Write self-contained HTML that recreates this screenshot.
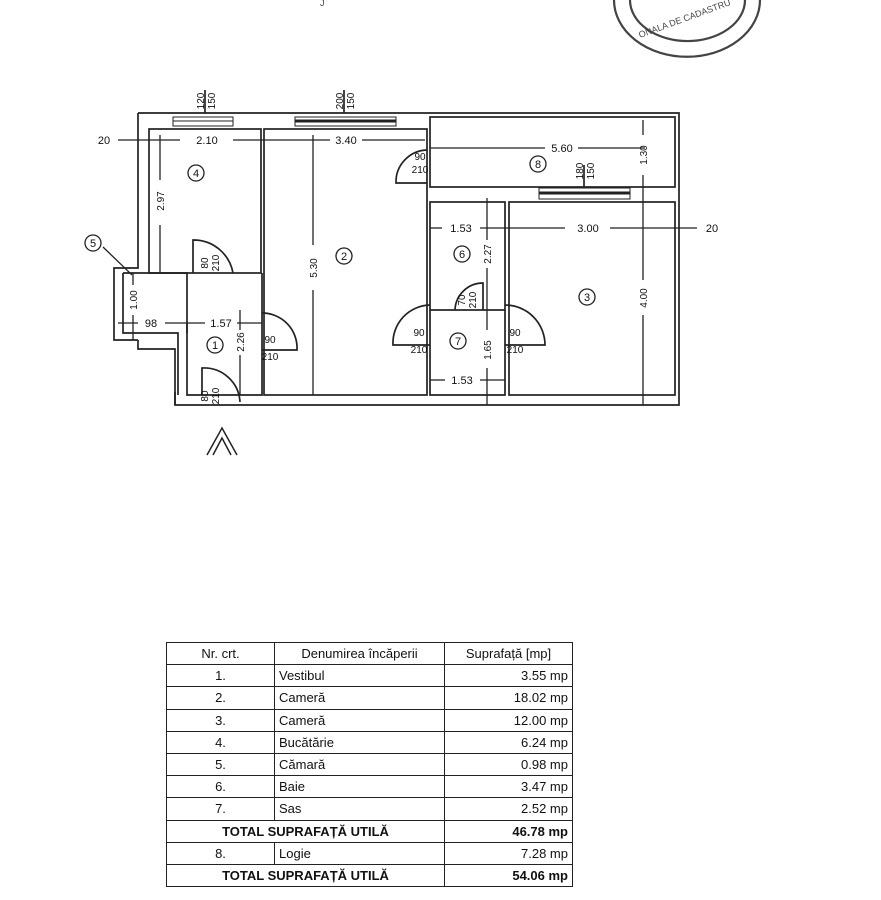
<!DOCTYPE html>
<html><head><meta charset="utf-8"><style>
body{margin:0;background:#fff;width:881px;height:900px;overflow:hidden;font-family:"Liberation Sans",Arial,sans-serif}
svg{position:absolute;left:0;top:0}
table{position:absolute;left:166px;top:642px;border-collapse:collapse;font-size:13px;color:#111}
td{border:1.5px solid #222;height:21.2px;padding:0 4px;line-height:19px}
</style></head><body>
<svg width="881" height="900" viewBox="0 0 881 900" font-family="Liberation Sans, Arial, sans-serif" fill="none" stroke="#222" stroke-width="1.7">
<!-- stamp -->
<g stroke="#444" stroke-width="2.2">
<path d="M614 0 A72 56 0 0 0 760 0"/>
<path d="M630 0 A56 40 0 0 0 745 0"/>
</g>
<g fill="#444" stroke="none" font-size="9"><text x="640" y="38" transform="rotate(-20 640 38)">ONALA DE CADASTRU</text><text x="320" y="6">J</text></g>
<!-- outer walls -->
<path d="M138 113 H679 V405 H175 V392"/>
<path d="M138 113 V268 H114 V340 H138"/>
<path d="M138 340 V349 H175 V405"/>
<rect x="149" y="129" width="112" height="144"/>
<rect x="264" y="129" width="163" height="266"/>
<rect x="430" y="117" width="245" height="70"/>
<rect x="430" y="202" width="75" height="108"/>
<rect x="509" y="202" width="166" height="193"/>
<path d="M430 310 V395 H505 V310"/>
<path d="M123 273 H187 V395 H262 V273"/>
<path d="M123 273 V333 H178 V395"/>
<path d="M187 323 V333"/>
<g stroke-width="1"><rect x="173" y="117" width="60" height="9"/><line x1="173" y1="121" x2="233" y2="121"/>
<rect x="295" y="117" width="101" height="9"/><line x1="295" y1="121" x2="396" y2="121" stroke-width="3"/>
<rect x="539" y="188" width="91" height="11"/><line x1="539" y1="193" x2="630" y2="193" stroke-width="3"/></g>
<line x1="205" y1="90" x2="205" y2="113"/><line x1="344" y1="90" x2="344" y2="113"/><line x1="584" y1="165" x2="584" y2="188"/>
<path d="M193 273 V240 A40 40 0 0 1 233 273"/>
<path d="M262 313 A35 35 0 0 1 297 350 H262"/>
<path d="M202 395 V368 A36 36 0 0 1 240 402"/>
<path d="M427 183 H396 A32 32 0 0 1 427 150"/>
<path d="M430 345 H393 A38 38 0 0 1 430 305"/>
<path d="M505 345 H545 A40 40 0 0 0 505 305"/>
<path d="M483 310 V283 A28 28 0 0 0 455 310"/>
<g stroke-width="1.3">
<line x1="118" y1="140" x2="180" y2="140"/><line x1="233" y1="140" x2="330" y2="140"/><line x1="362" y1="140" x2="425" y2="140"/>
<line x1="430" y1="148" x2="545" y2="148"/><line x1="578" y1="148" x2="645" y2="148"/>
<line x1="160" y1="135" x2="160" y2="180"/><line x1="160" y1="225" x2="160" y2="273"/>
<line x1="313" y1="135" x2="313" y2="245"/><line x1="313" y1="290" x2="313" y2="395"/>
<line x1="643" y1="120" x2="643" y2="135"/><line x1="643" y1="175" x2="643" y2="280"/><line x1="643" y1="315" x2="643" y2="405"/>
<line x1="430" y1="228" x2="442" y2="228"/><line x1="480" y1="228" x2="565" y2="228"/><line x1="610" y1="228" x2="697" y2="228"/>
<line x1="487" y1="198" x2="487" y2="240"/><line x1="487" y1="268" x2="487" y2="330"/><line x1="487" y1="368" x2="487" y2="405"/>
<line x1="430" y1="380" x2="445" y2="380"/><line x1="480" y1="380" x2="505" y2="380"/>
<line x1="118" y1="323" x2="138" y2="323"/><line x1="165" y1="323" x2="205" y2="323"/><line x1="237" y1="323" x2="262" y2="323"/>
<line x1="133" y1="273" x2="133" y2="285"/><line x1="133" y1="315" x2="133" y2="340"/>
<line x1="240" y1="310" x2="240" y2="330"/><line x1="240" y1="355" x2="240" y2="395"/>
<line x1="132" y1="275" x2="103" y2="247"/>
</g>
<g stroke-width="1.3"><circle cx="196" cy="173" r="8"/><circle cx="344" cy="256" r="8"/><circle cx="538" cy="164" r="8"/><circle cx="462" cy="254" r="8"/><circle cx="587" cy="297" r="8"/><circle cx="458" cy="341" r="8"/><circle cx="215" cy="345" r="8"/><circle cx="93" cy="243" r="8"/></g>
<path d="M207 455 L222 428 L237 455 M213 455 L222 438 L231 455" stroke-width="1.5"/>
<g fill="#111" stroke="none" font-size="11" text-anchor="middle">
<text x="196" y="177">4</text><text x="344" y="260">2</text><text x="538" y="168">8</text><text x="462" y="258">6</text><text x="587" y="301">3</text><text x="458" y="345">7</text><text x="215" y="349">1</text><text x="93" y="247">5</text>
<text x="104" y="144">20</text><text x="207" y="144">2.10</text><text x="346" y="144">3.40</text><text x="562" y="152">5.60</text>
<text x="461" y="232">1.53</text><text x="588" y="232">3.00</text><text x="712" y="232">20</text>
<text x="462" y="384">1.53</text><text x="151" y="327">98</text><text x="221" y="327">1.57</text>
<g font-size="10"><text x="420" y="160">90</text><text x="420" y="173">210</text>
<text x="270" y="343">90</text><text x="270" y="360">210</text>
<text x="419" y="336">90</text><text x="419" y="353">210</text>
<text x="515" y="336">90</text><text x="515" y="353">210</text></g>
<g font-size="10" text-anchor="middle">
<text transform="translate(164 201) rotate(-90)">2.97</text>
<text transform="translate(317 268) rotate(-90)">5.30</text>
<text transform="translate(647 155) rotate(-90)">1.30</text>
<text transform="translate(647 298) rotate(-90)">4.00</text>
<text transform="translate(491 254) rotate(-90)">2.27</text>
<text transform="translate(491 350) rotate(-90)">1.65</text>
<text transform="translate(137 300) rotate(-90)">1.00</text>
<text transform="translate(244 342) rotate(-90)">2.26</text>
<text transform="translate(204 101) rotate(-90)">120</text><text transform="translate(215 101) rotate(-90)">150</text>
<text transform="translate(343 101) rotate(-90)">200</text><text transform="translate(354 101) rotate(-90)">150</text>
<text transform="translate(583 171) rotate(-90)">180</text><text transform="translate(594 171) rotate(-90)">150</text>
<text transform="translate(208 263) rotate(-90)">80</text><text transform="translate(219 263) rotate(-90)">210</text>
<text transform="translate(208 396) rotate(-90)">80</text><text transform="translate(219 396) rotate(-90)">210</text>
<text transform="translate(465 300) rotate(-90)">70</text><text transform="translate(476 300) rotate(-90)">210</text>
</g></g>
</svg>
<table>
<tr><td style="width:99px;text-align:center">Nr. crt.</td><td style="width:161px;text-align:center">Denumirea încăperii</td><td style="width:119px;text-align:center">Suprafață [mp]</td></tr>
<tr><td align="center">1.</td><td>Vestibul</td><td align="right">3.55 mp</td></tr>
<tr><td align="center">2.</td><td>Cameră</td><td align="right">18.02 mp</td></tr>
<tr><td align="center">3.</td><td>Cameră</td><td align="right">12.00 mp</td></tr>
<tr><td align="center">4.</td><td>Bucătărie</td><td align="right">6.24 mp</td></tr>
<tr><td align="center">5.</td><td>Cămară</td><td align="right">0.98 mp</td></tr>
<tr><td align="center">6.</td><td>Baie</td><td align="right">3.47 mp</td></tr>
<tr><td align="center">7.</td><td>Sas</td><td align="right">2.52 mp</td></tr>
<tr><td colspan="2" align="center"><b>TOTAL SUPRAFAȚĂ UTILĂ</b></td><td align="right"><b>46.78 mp</b></td></tr>
<tr><td align="center">8.</td><td>Logie</td><td align="right">7.28 mp</td></tr>
<tr><td colspan="2" align="center"><b>TOTAL SUPRAFAȚĂ UTILĂ</b></td><td align="right"><b>54.06 mp</b></td></tr>
</table>
</body></html>
